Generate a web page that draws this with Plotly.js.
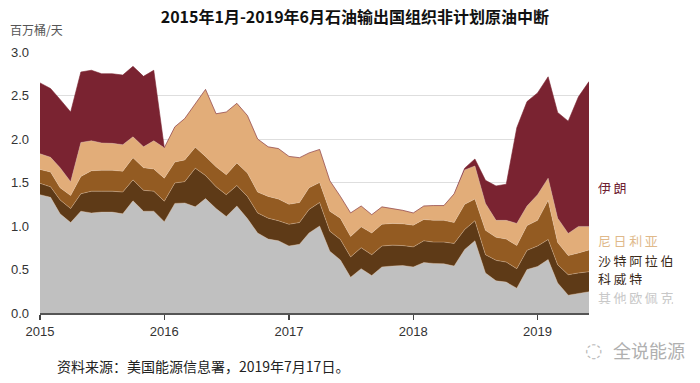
<!DOCTYPE html>
<html>
<head>
<meta charset="utf-8">
<script src="https://cdn.plot.ly/plotly-3.0.1.min.js"></script>
<style>html,body{margin:0;padding:0;background:#fff;}#chart{width:700px;height:383px;}</style>
</head>
<body>
<div id="chart"></div>
<script>
const months = [
 "2015-01-01","2015-02-01","2015-03-01","2015-04-01","2015-05-01","2015-06-01","2015-07-01","2015-08-01","2015-09-01","2015-10-01","2015-11-01","2015-12-01",
 "2016-01-01","2016-02-01","2016-03-01","2016-04-01","2016-05-01","2016-06-01","2016-07-01","2016-08-01","2016-09-01","2016-10-01","2016-11-01","2016-12-01",
 "2017-01-01","2017-02-01","2017-03-01","2017-04-01","2017-05-01","2017-06-01","2017-07-01","2017-08-01","2017-09-01","2017-10-01","2017-11-01","2017-12-01",
 "2018-01-01","2018-02-01","2018-03-01","2018-04-01","2018-05-01","2018-06-01","2018-07-01","2018-08-01","2018-09-01","2018-10-01","2018-11-01","2018-12-01",
 "2019-01-01","2019-02-01","2019-03-01","2019-04-01","2019-05-01","2019-06-01"
];
const otherOpec = [1.36,1.33,1.14,1.04,1.17,1.15,1.16,1.16,1.14,1.29,1.17,1.17,
 1.05,1.26,1.265,1.22,1.315,1.20,1.11,1.23,1.085,0.92,0.85,0.83,
 0.77,0.79,0.92,1.00,0.71,0.61,0.41,0.51,0.43,0.53,0.54,0.545,
 0.53,0.58,0.57,0.565,0.54,0.73,0.83,0.46,0.37,0.355,0.285,0.50,
 0.535,0.615,0.345,0.205,0.225,0.245];
const kuwait = [0.13,0.12,0.16,0.16,0.20,0.25,0.24,0.24,0.25,0.24,0.24,0.23,
 0.235,0.235,0.245,0.445,0.265,0.25,0.25,0.235,0.255,0.23,0.24,0.23,
 0.25,0.25,0.27,0.27,0.23,0.235,0.235,0.24,0.24,0.24,0.24,0.23,
 0.23,0.25,0.245,0.25,0.26,0.23,0.23,0.21,0.235,0.23,0.225,0.22,
 0.235,0.23,0.21,0.235,0.235,0.23];
const saudi = [0.16,0.17,0.14,0.15,0.20,0.235,0.24,0.24,0.24,0.255,0.26,0.255,
 0.265,0.24,0.25,0.24,0.22,0.23,0.23,0.26,0.27,0.24,0.25,0.25,
 0.23,0.23,0.25,0.23,0.23,0.245,0.235,0.24,0.25,0.25,0.25,0.25,
 0.25,0.245,0.25,0.25,0.24,0.29,0.25,0.28,0.265,0.265,0.265,0.285,
 0.295,0.45,0.255,0.22,0.23,0.25];
const nigeria = [0.18,0.17,0.23,0.16,0.39,0.345,0.315,0.31,0.305,0.24,0.24,0.325,
 0.35,0.405,0.475,0.495,0.77,0.61,0.72,0.685,0.66,0.61,0.57,0.58,
 0.55,0.515,0.40,0.38,0.35,0.25,0.27,0.24,0.21,0.20,0.17,0.155,
 0.14,0.155,0.17,0.17,0.33,0.395,0.38,0.31,0.195,0.215,0.255,0.225,
 0.295,0.255,0.28,0.255,0.305,0.27];
const iran = [0.815,0.79,0.785,0.80,0.81,0.81,0.795,0.80,0.80,0.81,0.81,0.81,
 0,0,0,0,0,0,0,0,0,0,0,0,
 0,0,0,0,0,0,0,0,0,0,0,0,
 0,0,0,0,0,0.02,0.08,0.265,0.395,0.415,1.10,1.20,
 1.17,1.165,1.215,1.29,1.49,1.665];

const seriesNames = ["其他欧佩克","科威特","沙特阿拉伯","尼日利亚","伊朗"];
const seriesColors = ["#c0c0c0","#5e3a17","#935b22","#e2ad79","#7a2331"];
const labelColors = ["#c8c8c8","#3a2a1a","#3a2a1a","#e0b98a","#6e2030"];
const seriesData = [otherOpec, kuwait, saudi, nigeria, iran];

const traces = seriesData.map((d,i)=>({
  x: months, y: d, name: seriesNames[i], type:'scatter', mode:'lines',
  stackgroup:'one', line:{width:0.6, color: i===4 ? seriesColors[i] : 'rgba(230,200,170,0.6)'},
  fillcolor: seriesColors[i], hoverinfo:'skip'
}));

const labelY = [297, 278, 260, 240, 187];
const layout = {
  width:700, height:383,
  margin:{l:40, r:111, t:52, b:70},
  paper_bgcolor:'#fff', plot_bgcolor:'#fff',
  showlegend:false,
  title:{text:'2015年1月-2019年6月石油输出国组织非计划原油中断', x:0.507, xanchor:'center', y:0.955, yanchor:'middle',
    font:{family:'"Noto Sans CJK SC"', size:16, color:'#111', weight:'bold'}},
  xaxis:{type:'date', range:['2015-01-01','2019-06-01'], tickvals:['2015-01-01','2016-01-01','2017-01-01','2018-01-01','2019-01-01'],
    ticktext:['2015','2016','2017','2018','2019'], ticks:'outside', ticklen:5, tickcolor:'#444', tickwidth:1.5,
    showline:true, linecolor:'#555', linewidth:2, showgrid:false, zeroline:false,
    tickfont:{family:'"Liberation Sans", Arial', size:13, color:'#333'}},
  yaxis:{range:[0,3.0], tickvals:[0,0.5,1,1.5,2,2.5,3], ticktext:['0.0','0.5','1.0','1.5','2.0','2.5','3.0'],
    showgrid:true, gridcolor:'#dedede', gridwidth:1, zeroline:false, showline:false, ticks:'', ticklabelstandoff:10,
    tickfont:{family:'"Liberation Sans", Arial', size:13, color:'#333'}},
  annotations:[]
};
const plotH = 383-52-70, plotW = 700-40-111;
function toPaperX(px){ return (px-40)/plotW; }
function toPaperY(py){ return (383-70-py)/plotH; }
seriesNames.forEach((n,i)=>{
  layout.annotations.push({xref:'paper', yref:'paper', x:toPaperX(597), xanchor:'left', y:toPaperY(labelY[i]), yanchor:'middle',
    text:n.split('').join('\u2009'), showarrow:false, height:14, borderpad:0,
    font:{family:'"Noto Sans CJK SC"', size:13, color:labelColors[i]}});
});
layout.annotations.push({xref:'paper', yref:'paper', x:toPaperX(8), xanchor:'left', y:toPaperY(30), yanchor:'middle',
  text:'百万桶/天', showarrow:false, font:{family:'"Noto Sans CJK SC"', size:12, color:'#555'}});
layout.annotations.push({xref:'paper', yref:'paper', x:toPaperX(55), xanchor:'left', y:toPaperY(366), yanchor:'middle',
  text:'资料来源：美国能源信息署，2019年7月17日。', showarrow:false, font:{family:'"Noto Sans CJK SC"', size:14, color:'#222'}});
layout.annotations.push({xref:'paper', yref:'paper', x:toPaperX(583), xanchor:'left', y:toPaperY(350), yanchor:'middle',
  text:'◌', showarrow:false, font:{family:'"DejaVu Sans"', size:20, color:'#b8b8b8'}});
layout.annotations.push({xref:'paper', yref:'paper', x:toPaperX(611), xanchor:'left', y:toPaperY(350), yanchor:'middle',
  text:'全说能源', showarrow:false, font:{family:'"Noto Sans CJK SC"', size:18, color:'#b0b0b0'}});
Plotly.newPlot('chart', traces, layout, {displayModeBar:false, staticPlot:true});
</script>
</body>
</html>
